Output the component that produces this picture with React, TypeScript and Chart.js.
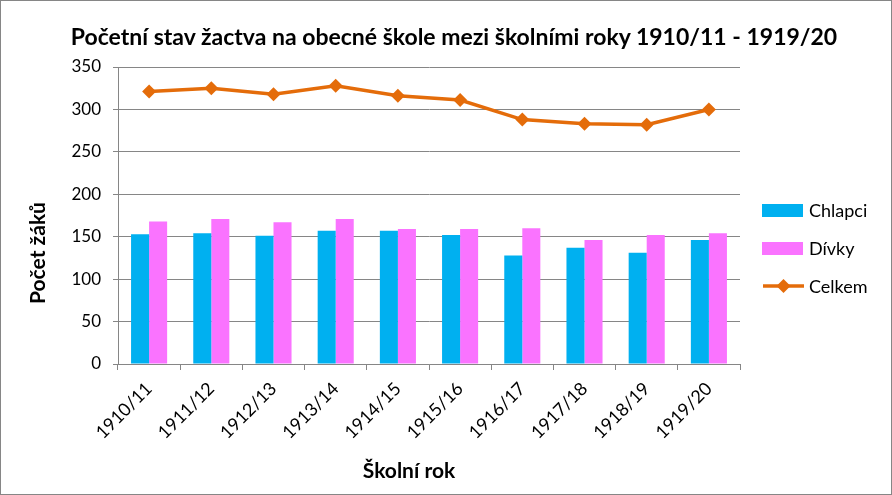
import React, { useEffect, useRef } from "react";
import { Chart, registerables } from "chart.js";

Chart.register(...registerables);

const categories = ["1910/11", "1911/12", "1912/13", "1913/14", "1914/15", "1915/16", "1916/17", "1917/18", "1918/19", "1919/20"];
const chlapci = [153, 154, 151, 157, 157, 152, 128, 137, 131, 146];
const divky = [168, 171, 167, 171, 159, 159, 160, 146, 152, 154];
const celkem = [321, 325, 318, 328, 316, 311, 288, 283, 282, 300];
const yTicks = [0, 50, 100, 150, 200, 250, 300, 350];

const TITLE = "Početní stav žactva na obecné škole mezi školními roky 1910/11 - 1919/20";
const X_TITLE = "Školní rok";
const Y_TITLE = "Počet žáků";

const FONT = "Lato, 'Open Sans', sans-serif";
const BLUE = "#00B0F0";
const PINK = "#FA73FF";
const ORANGE = "#E46C0A";
const GRID = "#868686";

export default function App() {
  const ref = useRef<HTMLCanvasElement | null>(null);

  useEffect(() => {
    document.body.style.margin = "0";
    const ctx = ref.current!;
    const chart = new Chart(ctx, {
      data: {
        labels: categories,
        datasets: [
          {
            type: "line",
            label: "Celkem",
            data: celkem,
            borderColor: ORANGE,
            backgroundColor: ORANGE,
            borderWidth: 3.5,
            pointStyle: "rectRot",
            pointRadius: 7,
            pointBorderWidth: 0,
            tension: 0,
            order: 0,
          },
          {
            type: "bar",
            label: "Chlapci",
            data: chlapci,
            backgroundColor: BLUE,
            categoryPercentage: 0.58,
            barPercentage: 1,
            order: 1,
          },
          {
            type: "bar",
            label: "Dívky",
            data: divky,
            backgroundColor: PINK,
            categoryPercentage: 0.58,
            barPercentage: 1,
            order: 1,
          },
        ],
      },
      options: {
        animation: false,
        responsive: true,
        maintainAspectRatio: false,
        layout: { padding: { left: 0, right: 151, top: 66, bottom: 0 } },
        plugins: {
          legend: { display: false },
          tooltip: { enabled: false },
          title: { display: false },
        },
        scales: {
          x: {
            offset: true,
            grid: {
              display: true,
              drawOnChartArea: false,
              drawTicks: true,
              tickLength: 6,
              color: GRID,
              offset: true,
            },
            border: { display: true, color: GRID, width: 1 },
            ticks: {
              color: "#000",
              font: { family: FONT, size: 18 },
              minRotation: 45,
              maxRotation: 45,
              padding: 8,
            },
            afterFit: (s: any) => {
              s.height = 130;
            },
          },
          y: {
            min: 0,
            max: 350,
            afterBuildTicks: (s: any) => {
              s.ticks = yTicks.map((v) => ({ value: v }));
            },
            grid: {
              color: GRID,
              drawTicks: true,
              tickLength: 5,
            },
            border: { display: true, color: GRID, width: 1 },
            ticks: {
              color: "#000",
              font: { family: FONT, size: 17 },
              padding: 12,
            },
            afterFit: (s: any) => {
              s.width = 117;
            },
          },
        },
      },
    } as any);
    return () => chart.destroy();
  }, []);

  const legendItem = (label: string, sample: React.ReactNode) => (
    <div style={{ display: "flex", alignItems: "center", height: 38 }}>
      <div style={{ width: 44, display: "flex", alignItems: "center" }}>{sample}</div>
      <span style={{ fontFamily: FONT, fontSize: 18, color: "#000", marginLeft: 3 }}>{label}</span>
    </div>
  );

  return (
    <div
      style={{
        position: "relative",
        width: 892,
        height: 495,
        boxSizing: "border-box",
        border: `1px solid ${GRID}`,
        background: "#fff",
      }}
    >
      <canvas ref={ref} />
      <div
        style={{
          position: "absolute",
          left: 0,
          top: 21,
          width: 906,
          textAlign: "center",
          fontFamily: FONT,
          fontWeight: "bold",
          fontSize: 23,
          lineHeight: "28px",
          color: "#000",
          whiteSpace: "nowrap",
        }}
      >
        {TITLE}
      </div>
      <div
        style={{
          position: "absolute",
          left: 308,
          top: 455,
          width: 200,
          textAlign: "center",
          fontFamily: FONT,
          fontWeight: "bold",
          fontSize: 21,
          lineHeight: "28px",
          color: "#000",
        }}
      >
        {X_TITLE}
      </div>
      <div
        style={{
          position: "absolute",
          left: 36 - 100,
          top: 252 - 14,
          width: 200,
          height: 28,
          textAlign: "center",
          fontFamily: FONT,
          fontWeight: "bold",
          fontSize: 21,
          lineHeight: "28px",
          color: "#000",
          transform: "rotate(-90deg)",
          transformOrigin: "100px 14px",
        }}
      >
        {Y_TITLE}
      </div>
      <div style={{ position: "absolute", left: 761, top: 190 }}>
        {legendItem("Chlapci", <div style={{ width: 41, height: 13, background: BLUE }} />)}
        {legendItem("Dívky", <div style={{ width: 41, height: 13, background: PINK }} />)}
        {legendItem(
          "Celkem",
          <svg width="43" height="16" viewBox="0 0 43 16">
            <line x1="1" y1="8" x2="42" y2="8" stroke={ORANGE} strokeWidth="3.5" />
            <polygon points="21.5,1 28.5,8 21.5,15 14.5,8" fill={ORANGE} />
          </svg>
        )}
      </div>
    </div>
  );
}
